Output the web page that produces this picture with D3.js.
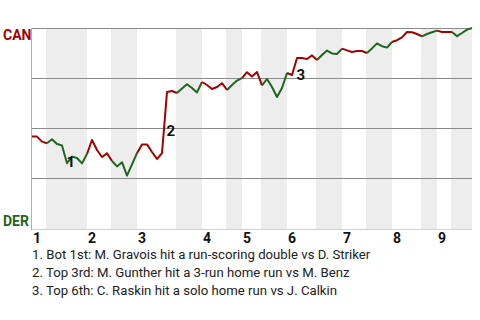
<!DOCTYPE html>
<html>
<head>
<meta charset="utf-8">
<script src="https://cdn.jsdelivr.net/npm/d3@7"></script>
<style>
  body { margin: 0; background: #fff; }
  svg { display: block; font-family: Roboto, "Noto Sans", sans-serif; }
</style>
</head>
<body>
<svg id="chart" width="480" height="320"></svg>
<script>
// Data

const teams = ["CAN", "DER"];
const innings = ["1", "2", "3", "4", "5", "6", "7", "8", "9"];

// CAN win probability (%) after each plate appearance
const winProb = [
    45.7, 45.7, 43.2, 42.4, 44.4, 42.0, 41.3, 32.4, 35.7, 35.0,
    32.3, 37.0, 44.0, 39.0, 35.5, 37.3, 33.5, 30.8, 32.9, 26.2,
    31.8, 37.4, 41.8, 41.8, 38.0, 34.5, 37.4, 68.0, 68.5, 67.5,
    69.8, 71.9, 70.0, 67.8, 73.0, 71.5, 69.5, 70.5, 72.4, 69.0,
    71.5, 73.7, 74.9, 77.9, 75.8, 78.0, 71.3, 74.5, 70.5, 65.5,
    70.0, 77.5, 76.5, 85.0, 85.0, 84.5, 86.3, 84.0, 86.5, 88.7,
    87.3, 87.0, 89.7, 88.8, 88.0, 88.5, 88.5, 87.5, 89.8, 92.3,
    90.9, 90.2, 93.0, 93.9, 95.3, 98.0, 97.9, 97.0, 95.8, 97.0,
    97.9, 98.7, 98.0, 98.0, 98.0, 95.9, 97.5, 99.2, 100
];

// last plate appearance index of each half inning
const topEnds = [3, 16, 29, 39, 46, 57, 67, 78, 84];
const bottomEnds = [11, 21, 34, 42, 51, 62, 72, 81, 88];

const gridValues = [25, 50, 75, 100];

const eventIdx = [7, 27, 53];
const eventText = [
    "Bot 1st: M. Gravois hit a run-scoring double vs D. Striker",
    "Top 3rd: M. Gunther hit a 3-run home run vs M. Benz",
    "Top 6th: C. Raskin hit a solo home run vs J. Calkin"
];

// Setup

const colors = { can: "#a30000", der: "#1e651e", band: "#ededed", grid: "#8a8a8a" };

const svg = d3.select("#chart");

const x = d3.scaleLinear()
    .domain([0, winProb.length - 1])
    .range([32, 472]);

const y = d3.scaleLinear()
    .domain([0, 100])
    .range([228, 28]);

// Bottom-half shading

svg.append("g")
    .selectAll("rect")
    .data(innings)
    .join("rect")
    .attr("x", (d, i) => x(topEnds[i]) - 1)
    .attr("width", (d, i) => x(bottomEnds[i]) - x(topEnds[i]) + 1)
    .attr("y", y(100))
    .attr("height", y(0) - y(100) + 1)
    .attr("fill", colors.band);

// Grid

svg.append("g")
    .selectAll("line")
    .data(gridValues)
    .join("line")
    .attr("x1", x(0))
    .attr("x2", x(winProb.length - 1))
    .attr("y1", d => y(d) + 0.5)
    .attr("y2", d => y(d) + 0.5)
    .attr("stroke", colors.grid);

svg.append("line")
    .attr("x1", x(0))
    .attr("x2", x(winProb.length - 1))
    .attr("y1", y(0) + 1.5)
    .attr("y2", y(0) + 1.5)
    .attr("stroke", "#d0d0d0");

svg.append("line")
    .attr("x1", x(0) - 0.5)
    .attr("x2", x(0) - 0.5)
    .attr("y1", y(100))
    .attr("y2", y(0) + 2)
    .attr("stroke", "#b0b0b0");

// Team labels

svg.append("text")
    .attr("x", 3)
    .attr("y", y(100) + 12)
    .attr("fill", colors.can)
    .attr("font-weight", "bold")
    .attr("font-size", 14)
    .text(teams[0]);

svg.append("text")
    .attr("x", 3)
    .attr("y", y(0) - 2)
    .attr("fill", colors.der)
    .attr("font-weight", "bold")
    .attr("font-size", 14)
    .text(teams[1]);

// Win probability line, one piece per half inning

const halves = [];
let prev = 0;
innings.forEach((d, i) => {
    halves.push({ from: prev, to: topEnds[i], color: colors.can });
    halves.push({ from: topEnds[i], to: bottomEnds[i], color: colors.der });
    prev = bottomEnds[i];
});

const line = d3.line()
    .x(d => x(d))
    .y(d => y(winProb[d]));

svg.append("g")
    .selectAll("path")
    .data(halves)
    .join("path")
    .attr("d", h => line(d3.range(h.from, h.to + 1)))
    .attr("fill", "none")
    .attr("stroke", h => h.color)
    .attr("stroke-width", 2)
    .attr("stroke-linejoin", "round");

// Event markers

svg.append("g")
    .selectAll("text")
    .data(eventIdx)
    .join("text")
    .attr("x", d => (x(d - 1) + x(d)) / 2 + 2)
    .attr("y", d => (y(winProb[d - 1]) + y(winProb[d])) / 2 + 13)
    .attr("font-weight", "bold")
    .attr("font-size", 15)
    .attr("fill", "#111")
    .text((d, i) => i + 1);

// Inning labels

svg.append("g")
    .selectAll("text")
    .data(innings)
    .join("text")
    .attr("x", (d, i) => x(i === 0 ? 0 : bottomEnds[i - 1]) + 1)
    .attr("y", 243)
    .attr("font-weight", "bold")
    .attr("font-size", 14)
    .attr("fill", "#111")
    .text(d => d);

// Event notes

svg.append("g")
    .selectAll("text")
    .data(eventText)
    .join("text")
    .attr("x", 32)
    .attr("y", (d, i) => 259 + i * 18)
    .attr("font-size", 13.2)
    .attr("fill", "#222")
    .text((d, i) => (i + 1) + ". " + d);
</script>
</body>
</html>
